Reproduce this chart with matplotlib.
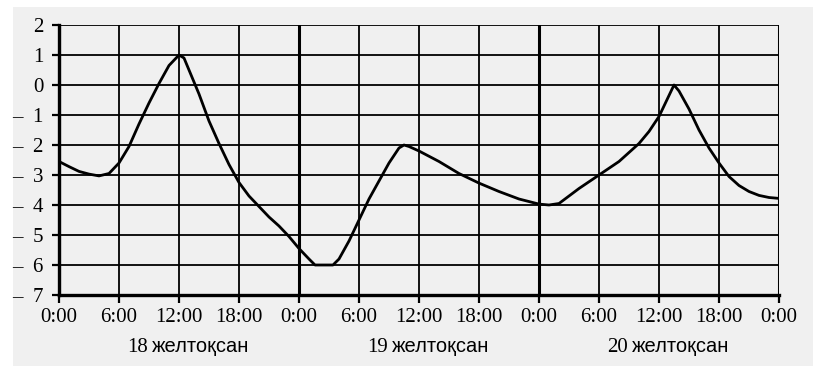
import matplotlib
matplotlib.use("Agg")
import matplotlib.pyplot as plt
from matplotlib.patches import Rectangle
from matplotlib.transforms import blended_transform_factory

# hours since 18 желтоқсан 0:00
hours = [0, 1, 2, 3, 4, 5, 6, 7, 8, 9, 10, 11, 12, 12.5, 13, 14, 15, 16, 17, 18,
         19, 20, 21, 22, 23, 24,
         25, 25.6, 27.4, 28, 29, 30, 31, 32, 33, 34, 34.5, 35, 36, 38, 40, 42,
         44, 46, 48,
         49, 50, 51, 52, 54, 56, 58, 59, 60, 61, 61.5, 62, 63, 64, 65, 66, 67,
         68, 69, 70, 71, 72]
temps = [-2.55, -2.72, -2.88, -2.97, -3.03, -2.95, -2.6, -2.05, -1.3, -0.6, 0.05,
         0.65, 1.0, 0.9, 0.5, -0.3, -1.2, -1.95, -2.65, -3.25,
         -3.7, -4.05, -4.4, -4.7, -5.05, -5.45,
         -5.8, -6.0, -6.0, -5.8, -5.2, -4.5, -3.8, -3.2, -2.6, -2.1, -2.0, -2.05,
         -2.2, -2.55, -2.95, -3.27,
         -3.55, -3.8, -3.97,
         -4.0, -3.95, -3.7, -3.45, -3.0, -2.55, -1.95, -1.55, -1.05, -0.35, 0.0,
         -0.2, -0.8, -1.5, -2.1, -2.6, -3.05,
         -3.35, -3.55, -3.68, -3.75, -3.78]

x_ticks = list(range(0, 73, 6))
x_labels = ["0:00", "6:00", "12:00", "18:00"] * 3 + ["0:00"]
day_lines = [0, 24, 48, 72]
y_ticks = list(range(-7, 3))
y_labels = [str(v) if v >= 0 else "\u2013  " + str(-v) for v in y_ticks]
day_nums = ["18", "19", "20"]
month = "желтоқсан"

W, H = 816, 376
fig = plt.figure(figsize=(W / 100, H / 100), dpi=100)
fig.patch.set_facecolor("white")
bg = fig.add_axes([0, 0, 1, 1], zorder=-5)
bg.set_axis_off()
bg.add_patch(Rectangle((13 / W, 1 - 366 / H), 800 / W, 359 / H,
                       transform=bg.transAxes, facecolor="#f0f0f0",
                       edgecolor="none"))

ax = fig.add_axes([59 / W, 1 - 295 / H, 720 / W, 270 / H])
ax.set_facecolor("#f0f0f0")

for v in y_ticks[1:]:
    ax.axhline(v, color="black", lw=1.3, zorder=1)
for h in x_ticks:
    if h in day_lines:
        ax.axvline(h, color="black", lw=2.2, zorder=1)
    else:
        ax.axvline(h, color="black", lw=1.3, zorder=1)

ax.plot(hours, temps, color="black", lw=2.0, zorder=3)

ax.set_xlim(0, 72)
ax.set_ylim(-7, 2)
for s in ["top", "right"]:
    ax.spines[s].set_visible(False)
for s in ["left", "bottom"]:
    ax.spines[s].set_linewidth(2.4)
    ax.spines[s].set_zorder(4)

serif = "Liberation Serif"
ax.set_xticks(x_ticks)
ax.set_xticklabels(x_labels, family=serif, fontsize=15)
ax.set_yticks(y_ticks)
ax.set_yticklabels(y_labels, family=serif, fontsize=15)
ax.tick_params(axis="x", length=6, width=1.6, pad=3)
ax.tick_params(axis="y", length=5, width=1.6, pad=6)

tr = blended_transform_factory(ax.transData, fig.transFigure)
for i, d in enumerate(day_nums):
    c = 24 * i
    ax.text(c + 8.9, 1 - 347 / H, d, transform=tr, ha="right", va="center",
            family=serif, fontsize=15)
    ax.text(c + 9.3, 1 - 346 / H, month, transform=tr, ha="left", va="center",
            family="Liberation Sans", fontsize=14.5)

fig.savefig("out.png", dpi=100)
